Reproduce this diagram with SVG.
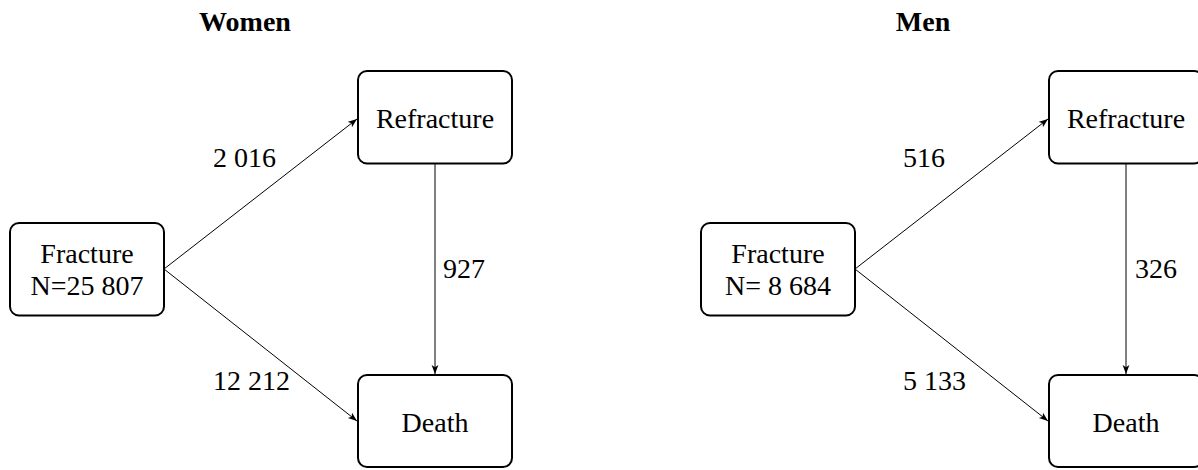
<svg xmlns="http://www.w3.org/2000/svg" width="1198" height="470" viewBox="0 0 1198 470">
<defs>
<style>
.box{fill:#fff;stroke:#000;stroke-width:2}
.t{font-family:"Liberation Serif","Times New Roman",serif;font-size:28px;fill:#000}
.c{text-anchor:middle}
.h{font-weight:bold}
.e{stroke:#000;stroke-width:1;fill:none}
</style>
<marker id="ah" markerUnits="userSpaceOnUse" markerWidth="10" markerHeight="8" refX="9" refY="4" orient="auto">
<path d="M0,0.6 L9,4 L0,7.4 L2.2,4 Z" fill="#000"/>
</marker>
</defs>
<text class="t c h" x="245" y="31">Women</text>
<text class="t c h" x="923" y="31">Men</text>
<g id="connectors">
<line class="e" x1="164" y1="269" x2="357" y2="119" marker-end="url(#ah)"/>
<line class="e" x1="164" y1="269" x2="357" y2="421" marker-end="url(#ah)"/>
<line class="e" x1="435" y1="164" x2="435" y2="374" marker-end="url(#ah)"/>
<line class="e" x1="855" y1="269" x2="1048" y2="119" marker-end="url(#ah)"/>
<line class="e" x1="855" y1="269" x2="1048" y2="421" marker-end="url(#ah)"/>
<line class="e" x1="1126" y1="164" x2="1126" y2="374" marker-end="url(#ah)"/>
<text class="t" x="213" y="167">2 016</text>
<text class="t" x="213" y="390">12 212</text>
<text class="t" x="443" y="278">927</text>
<text class="t" x="903" y="167">516</text>
<text class="t" x="903" y="390">5 133</text>
<text class="t" x="1135" y="278">326</text>
</g>
<g id="w-fracture">
<rect class="box" x="10" y="223" width="154" height="92.5" rx="9"/>
<text class="t c" x="87" y="263">Fracture</text>
<text class="t c" x="87" y="295">N=25 807</text>
</g>
<g id="w-refracture">
<rect class="box" x="358" y="71" width="154" height="92.5" rx="9"/>
<text class="t c" x="435" y="128">Refracture</text>
</g>
<g id="w-death">
<rect class="box" x="358" y="375" width="154" height="92" rx="9"/>
<text class="t c" x="435" y="432">Death</text>
</g>
<g id="m-fracture">
<rect class="box" x="701" y="223" width="154" height="92.5" rx="9"/>
<text class="t c" x="778" y="263">Fracture</text>
<text class="t c" x="778" y="295">N= 8 684</text>
</g>
<g id="m-refracture">
<rect class="box" x="1049" y="71" width="154" height="92.5" rx="9"/>
<text class="t c" x="1126" y="128">Refracture</text>
</g>
<g id="m-death">
<rect class="box" x="1049" y="375" width="154" height="92" rx="9"/>
<text class="t c" x="1126" y="432">Death</text>
</g>
</svg>
